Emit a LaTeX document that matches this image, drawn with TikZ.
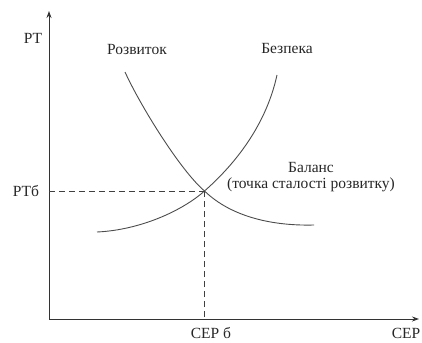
\documentclass[tikz,border=0pt]{standalone}
\usepackage{fontspec}
\setmainfont{Liberation Serif}
\usetikzlibrary{arrows.meta,positioning}

\begin{document}
\begin{tikzpicture}[
    x=1pt, y=-1pt,
    lbl/.style={font=\fontsize{15.5}{17}\selectfont, text=black!85, inner sep=0pt},
    ax/.style={-{Stealth[length=7pt,width=5pt]}, line width=0.9pt, black!80},
    crv/.style={line width=0.9pt, black!70},
    guide/.style={dashed, dash pattern=on 6pt off 4pt, line width=0.8pt, black!75}
]
\useasboundingbox (0,0) rectangle (422,342);

% axes
\coordinate (origin) at (49,319);
\coordinate (ytop) at (49,11);
\coordinate (xend) at (419,319);
\draw[ax] (origin) -- (ytop);
\draw[ax] (origin) -- (xend);

% balance point and curve ends
\coordinate (bal) at (204.5,191);
\coordinate (baly) at (origin |- bal);
\coordinate (balx) at (bal |- origin);
\coordinate (rozv_a) at (125,72);
\coordinate (rozv_b) at (314,225);
\coordinate (bezp_a) at (97,232);
\coordinate (bezp_b) at (277,75);

% curves
\draw[crv] (rozv_a) .. controls (140,105) and (180,170) .. (bal)
    .. controls (232.5,218) and (275,226) .. (rozv_b);
\draw[crv] (bezp_a) .. controls (140,230) and (182,211) .. (bal)
    .. controls (229.5,169) and (265,130) .. (bezp_b);

% guides
\draw[guide] (baly) -- (bal);
\draw[guide] (bal) -- (balx);

% labels
\node[lbl] (rt) at (33,38) {РТ};
\node[lbl] (rtb) at (26,191) {РТб};
\node[lbl] (rozv) at (137,50) {Розвиток};
\node[lbl] (bezp) at (287,49) {Безпека};
\node[lbl] (balans) at (311,167) {Баланс};
\node[lbl, below=5pt of balans] (tochka) {(точка сталості розвитку)};
\node[lbl] (serb) at (211,333) {СЕР б};
\node[lbl] (ser) at (406,333) {СЕР};
\end{tikzpicture}
\end{document}
